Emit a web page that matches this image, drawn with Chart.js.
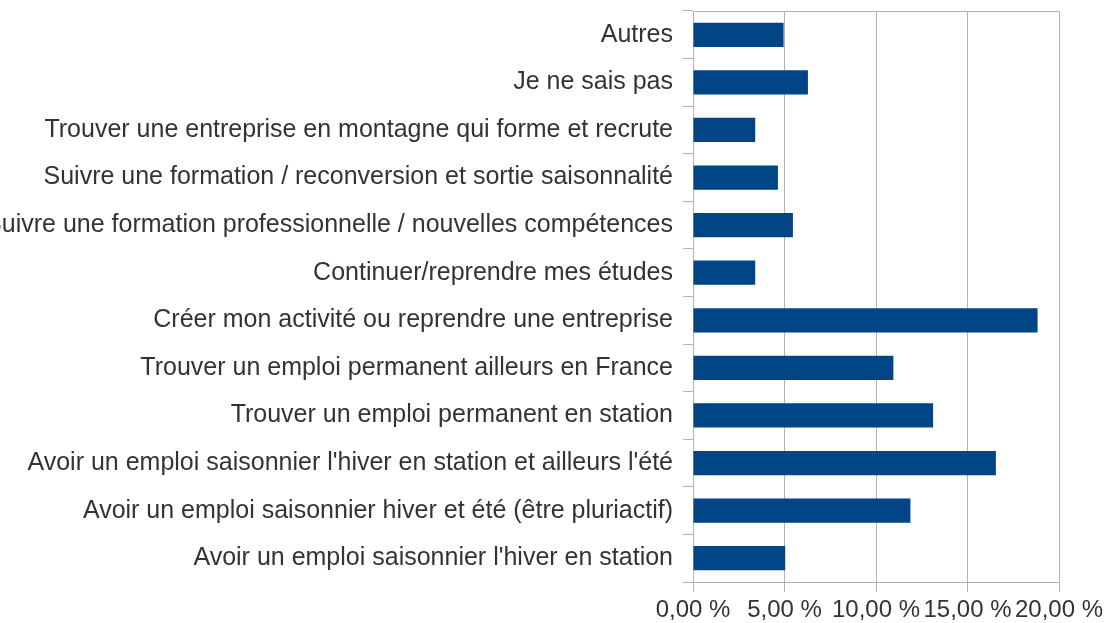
<!DOCTYPE html>
<html>
<head>
<meta charset="utf-8">
<script src="https://cdn.jsdelivr.net/npm/chart.js@4"></script>
<style>
  html, body { margin: 0; padding: 0; background: #fff; }
  #wrap { width: 1105px; height: 623px; }
</style>
</head>
<body>
<div id="wrap"><canvas id="reponsesChart" width="1105" height="623"></canvas></div>
<script>
// categories, top to bottom as in the picture
const categories = [
    "Autres",
    "Je ne sais pas",
    "Trouver une entreprise en montagne qui forme et recrute",
    "Suivre une formation / reconversion et sortie saisonnalité",
    "Suivre une formation professionnelle / nouvelles compétences",
    "Continuer/reprendre mes études",
    "Créer mon activité ou reprendre une entreprise",
    "Trouver un emploi permanent ailleurs en France",
    "Trouver un emploi permanent en station",
    "Avoir un emploi saisonnier l'hiver en station et ailleurs l'été",
    "Avoir un emploi saisonnier hiver et été (être pluriactif)",
    "Avoir un emploi saisonnier l'hiver en station"
];

// share of answers, in percent
const pourcentages = [4.95, 6.28, 3.40, 4.64, 5.46, 3.40, 18.83, 10.95, 13.12, 16.55, 11.88, 5.04];

// x axis ticks
const xTicks = [0, 5, 10, 15, 20];

const GRIS = "#b3b3b3";
const BLEU = "#004586";
const POLICE = "'Liberation Sans', Arial, sans-serif";

// cadre du haut de la zone de tracé
const cadrePlugin = {
    id: "cadre",
    afterDraw(chart) {
        const a = chart.chartArea;
        const ctx = chart.ctx;
        ctx.save();
        ctx.strokeStyle = GRIS;
        ctx.lineWidth = 1;
        ctx.beginPath();
        ctx.moveTo(a.left, a.top + 0.5);
        ctx.lineTo(a.right, a.top + 0.5);
        ctx.stroke();
        ctx.restore();
    }
};

new Chart(document.getElementById("reponsesChart"), {
    type: "bar",
    data: {
        labels: categories,
        datasets: [{
            data: pourcentages,
            backgroundColor: BLEU,
            borderWidth: 0,
            categoryPercentage: 1,
            barPercentage: 0.51
        }]
    },
    options: {
        indexAxis: "y",
        responsive: false,
        animation: false,
        layout: { padding: { top: 11, right: 46, bottom: 0, left: 0 } },
        plugins: {
            legend: { display: false },
            tooltip: { enabled: false }
        },
        scales: {
            x: {
                min: 0,
                max: 20,
                afterBuildTicks: scale => {
                    scale.ticks = xTicks.map(v => ({ value: v }));
                },
                afterFit: scale => {
                    scale.height = 41;
                    scale.paddingLeft = 0;
                    scale.paddingRight = 0;
                },
                grid: {
                    color: GRIS,
                    lineWidth: 1,
                    tickLength: 10,
                    tickColor: GRIS
                },
                border: { color: GRIS },
                ticks: {
                    color: "#333",
                    padding: 4,
                    maxRotation: 0,
                    autoSkip: false,
                    font: { family: POLICE, size: 24 },
                    callback: v => v.toFixed(2).replace(".", ",") + " %"
                }
            },
            y: {
                afterFit: scale => {
                    scale.width = 693;
                    scale.paddingTop = 0;
                    scale.paddingBottom = 0;
                },
                grid: {
                    offset: true,
                    drawOnChartArea: false,
                    tickLength: 10,
                    tickColor: GRIS
                },
                border: { color: GRIS },
                ticks: {
                    color: "#333",
                    padding: 10,
                    autoSkip: false,
                    font: { family: POLICE, size: 25 }
                }
            }
        }
    },
    plugins: [cadrePlugin]
});
</script>
</body>
</html>
